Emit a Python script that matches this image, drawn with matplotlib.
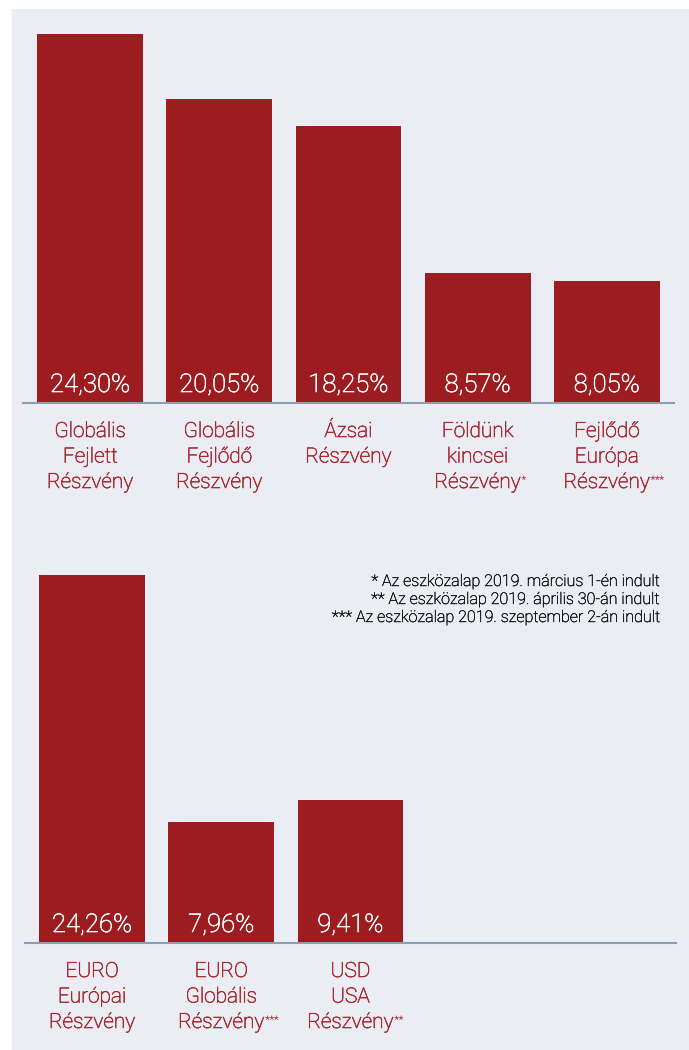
import matplotlib.pyplot as plt
import matplotlib.patheffects as pe
from matplotlib.patches import Rectangle

# data
top_names = [["Globális", "Fejlett", "Részvény"],
             ["Globális", "Fejlődő", "Részvény"],
             ["Ázsai", "Részvény"],
             ["Földünk", "kincsei", "Részvény"],
             ["Fejlődő", "Európa", "Részvény"]]
top_marks = ["", "", "", "*", "***"]
top_values = [24.30, 20.05, 18.25, 8.57, 8.05]

bottom_names = [["EURO", "Európai", "Részvény"],
                ["EURO", "Globális", "Részvény"],
                ["USD", "USA", "Részvény"]]
bottom_marks = ["", "***", "**"]
bottom_values = [24.26, 7.96, 9.41]

notes = ["* Az eszközalap 2019. március 1-én indult",
         "** Az eszközalap 2019. április 30-án indult",
         "*** Az eszközalap 2019. szeptember 2-án indult"]

W, H = 689, 1050
BAR = "#9d1c20"
LABEL = "#ab2a32"
LINE = "#8d9db2"
BG = "#eaeef4"
PX = 0.72  # pixels -> points at dpi 100

plt.rcParams["font.family"] = ["Roboto", "DejaVu Sans"]
plt.rcParams["font.weight"] = "light"


def bolder(color, w=0.45):
    # thicken the light face a little
    return [pe.withStroke(linewidth=w, foreground=color)]


fig = plt.figure(figsize=(W / 100, H / 100), dpi=100)
fig.patches.append(Rectangle((12 / W, 0), 1, 1 - 9 / H, transform=fig.transFigure,
                             color=BG, zorder=-10))

scale = 15.18  # px per percent


def draw_panel(x0, x1, base, names, marks, values):
    ax = fig.add_axes([x0 / W, 1 - base / H, (x1 - x0) / W, 25 * scale / H])
    ax.set_xlim(-0.52, 4.52)
    ax.set_ylim(0, 25)
    ax.axis("off")
    ax.bar(range(len(values)), values, width=0.82, color=BAR, zorder=2)
    ax.axhline(0, color=LINE, lw=1.5, zorder=3, clip_on=False)
    for i, v in enumerate(values):
        ax.annotate("{:.2f}%".format(v).replace(".", ","), xy=(i, 0),
                    xytext=(0, 11 * PX), textcoords="offset points",
                    ha="center", va="baseline", color="white", fontsize=18.5,
                    zorder=4, path_effects=bolder("white"))
        lines = names[i]
        for j, line in enumerate(lines):
            t = ax.annotate(line, xy=(i, 0), xytext=(0, -(34 + 25.5 * j) * PX),
                            textcoords="offset points", ha="center",
                            va="baseline", color=LABEL, fontsize=15,
                            annotation_clip=False, path_effects=bolder(LABEL))
        if marks[i]:
            ax.annotate(marks[i], xy=(1, 1), xycoords=t, xytext=(0.5, -1.5),
                        textcoords="offset points", ha="left", va="top",
                        color=LABEL, fontsize=7.5,
                        path_effects=bolder(LABEL, 0.15))
    return ax


draw_panel(23, 674, 403, top_names, top_marks, top_values)
draw_panel(25, 676, 943, bottom_names, bottom_marks, bottom_values)

for k, note in enumerate(notes):
    fig.text(660 / W, 1 - (586 + 18 * k) / H, note, ha="right", va="baseline",
             fontsize=11.6, color="#111111", path_effects=bolder("#111111", 0.3))

fig.savefig("out.png", dpi=100)
